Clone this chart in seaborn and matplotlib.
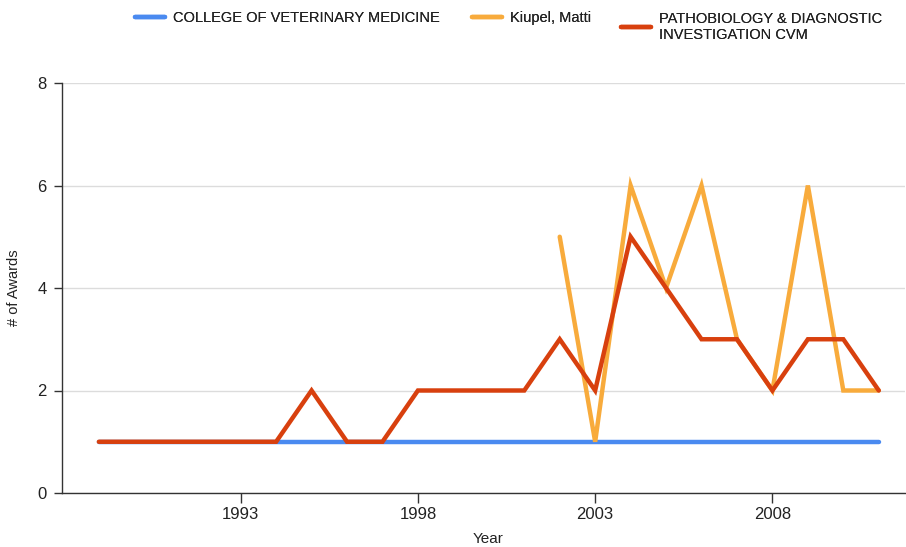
import matplotlib
matplotlib.use("Agg")
import matplotlib.pyplot as plt
import seaborn as sns
import pandas as pd
import numpy as np

years_college = list(range(1989, 2012))
college = [1] * 23

years_kiupel = list(range(2002, 2012))
kiupel = [5, 1, 6, 4, 6, 3, 2, 6, 2, 2]

years_patho = list(range(1989, 2012))
patho = [1, 1, 1, 1, 1, 1, 2, 1, 1, 2, 2, 2, 2, 3, 2, 5, 4, 3, 3, 2, 3, 3, 2]

names = ["COLLEGE OF VETERINARY MEDICINE", "Kiupel, Matti",
         "PATHOBIOLOGY & DIAGNOSTIC\nINVESTIGATION CVM"]
colors = ["#4a8af0", "#f8ab3c", "#d8400e"]
xticks = [1993, 1998, 2003, 2008]
yticks = [0, 2, 4, 6, 8]

df = pd.concat([
    pd.DataFrame({"Year": years_college, "Awards": college, "Series": names[0]}),
    pd.DataFrame({"Year": years_kiupel, "Awards": kiupel, "Series": names[1]}),
    pd.DataFrame({"Year": years_patho, "Awards": patho, "Series": names[2]}),
])

sns.set_style("white")
plt.rcParams["font.family"] = ["Liberation Sans", "DejaVu Sans"]

fig = plt.figure(figsize=(9.06, 5.47), dpi=100)
ax = fig.add_axes([62/906, 1-493/547, (905-62)/906, (493-83)/547])

sns.lineplot(data=df, x="Year", y="Awards", hue="Series", hue_order=names,
             palette=colors, linewidth=3.2, ax=ax, legend=True,
             solid_capstyle="round", solid_joinstyle="miter")

ax.set_xlim(1987.96, 2011.74)
ax.set_ylim(0, 8)
ax.set_xticks(xticks)
ax.set_yticks(yticks)
ax.yaxis.grid(True, color="#dcdcdc", linewidth=1)
ax.xaxis.grid(False)
for s in ["top", "right"]:
    ax.spines[s].set_visible(False)
for s in ["left", "bottom"]:
    ax.spines[s].set_color("#333333")
    ax.spines[s].set_linewidth(1)
ax.tick_params(axis="both", which="both", direction="out", length=6, width=1,
               color="#333333", labelsize=12, labelcolor="#222222",
               bottom=True, left=True)
ax.tick_params(axis="x", pad=3, length=7)
ax.tick_params(axis="y", pad=5)
ax.set_xlabel("")
ax.set_ylabel("# of Awards", fontsize=10.5, color="#222222", labelpad=12)
fig.text(488/906, 1-539/547, "Year", fontsize=11, color="#222222",
         ha="center", va="center")

handles, labels = ax.get_legend_handles_labels()
ax.get_legend().remove()
# one legend per entry, placed like the reference
positions = [(135/906, 1-18/547), (472/906, 1-18/547), (621/906, 1-27/547)]
for h, lab, pos in zip(handles, labels, positions):
    lg = fig.legend([h], [lab], loc="center left", frameon=False,
                    bbox_to_anchor=pos, fontsize=10.5, handlelength=2.05,
                    handletextpad=0.55, borderaxespad=0, borderpad=0)
    for t in lg.get_texts():
        t.set_color("#222222")
        t.set_linespacing(1.1)
    fig.add_artist(lg)

fig.savefig("out.png", dpi=100)
